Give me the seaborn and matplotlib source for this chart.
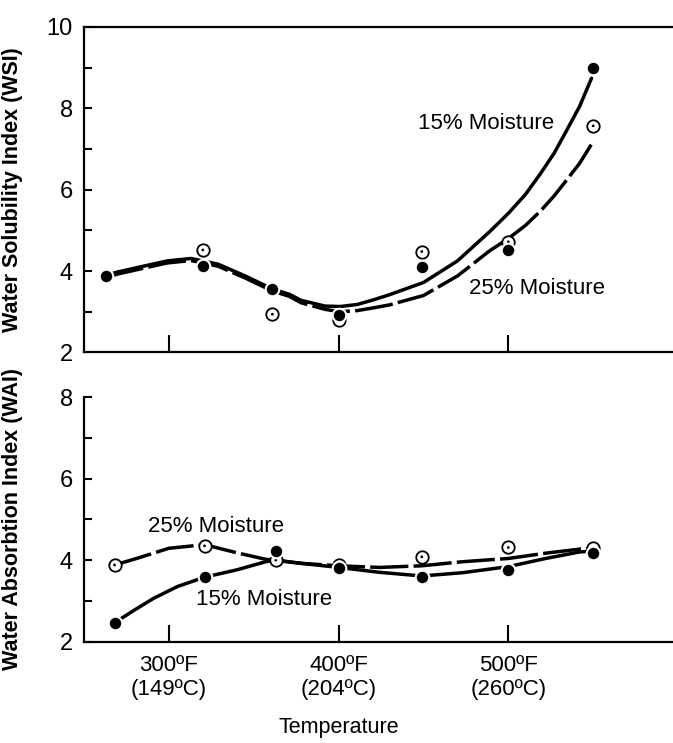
import numpy as np
import pandas as pd
import matplotlib
matplotlib.use("Agg")
import matplotlib.pyplot as plt
import seaborn as sns
from matplotlib.ticker import MultipleLocator

# measured points, top panel (water solubility index)
temps_top = [263, 320, 361, 400, 449, 500, 550]
wsi_15 = [3.88, 4.13, 3.55, 2.93, 4.11, 4.52, 9.00]
wsi_25 = [3.88, 4.52, 2.94, 2.80, 4.48, 4.72, 7.57]

# hand drawn curves of the top panel
curve_x_top = [263, 270, 285, 299, 313, 329, 345, 361, 371, 378, 392, 401, 411, 421, 430, 450, 470, 489, 500, 510, 519, 527, 534, 542, 549]
curve_wsi_15 = [3.90, 3.98, 4.12, 4.25, 4.31, 4.17, 3.88, 3.56, 3.43, 3.28, 3.14, 3.13, 3.18, 3.30, 3.42, 3.72, 4.25, 4.97, 5.42, 5.88, 6.40, 6.90, 7.43, 8.05, 8.74]
curve_wsi_25 = [3.85, 3.93, 4.07, 4.20, 4.26, 4.12, 3.83, 3.51, 3.38, 3.22, 3.06, 3.00, 3.03, 3.10, 3.17, 3.40, 3.88, 4.50, 4.80, 5.12, 5.48, 5.85, 6.22, 6.65, 7.12]

# measured points, bottom panel (water absorption index)
temps_bot = [268, 321, 363, 400, 449, 500, 550]
wai_15 = [2.46, 3.58, 4.23, 3.80, 3.58, 3.76, 4.17]
wai_25 = [3.88, 4.35, 4.00, 3.88, 4.08, 4.31, 4.29]

curve_x_bot_15 = [268, 280, 291, 305, 321, 340, 357, 363, 378, 400, 424, 449, 473, 500, 522, 542, 550]
curve_wai_15 = [2.46, 2.78, 3.06, 3.35, 3.58, 3.76, 3.96, 4.00, 3.92, 3.82, 3.70, 3.61, 3.69, 3.84, 4.04, 4.20, 4.22]
curve_x_bot_25 = [268, 281, 300, 321, 340, 357, 378, 400, 424, 449, 473, 500, 522, 542, 550]
curve_wai_25 = [3.88, 4.04, 4.29, 4.38, 4.18, 4.02, 3.92, 3.86, 3.82, 3.86, 3.96, 4.04, 4.17, 4.27, 4.29]

xtick_vals = [300, 400, 500]
xtick_labels = ["300ºF\n(149ºC)", "400ºF\n(204ºC)", "500ºF\n(260ºC)"]

sns.set_style("ticks")
plt.rcParams["font.family"] = ["Liberation Sans", "DejaVu Sans"]
plt.rcParams["text.color"] = "black"
plt.rcParams["axes.labelcolor"] = "black"

fig = plt.figure(figsize=(6.73, 7.43), dpi=100)
ax1 = fig.add_axes([0.1248, 0.5256, 0.8752, 0.4381])
ax2 = fig.add_axes([0.1248, 0.1366, 0.8752, 0.3287])

dash = (0, (11, 1.5))
lw = 2.5


def draw_panel(ax, temps, v15, v25, cx15, cy15, cx25, cy25):
    sns.lineplot(x=cx15, y=cy15, ax=ax, color="black", lw=lw, sort=False, zorder=2)
    sns.lineplot(x=cx25, y=cy25, ax=ax, color="black", lw=lw, sort=False,
                 linestyle=dash, zorder=2)
    # open circles with a centre dot = 25% moisture
    sns.scatterplot(x=temps, y=v25, ax=ax, marker="o", s=80, facecolor="white",
                    edgecolor="black", linewidth=1.3, zorder=3)
    sns.scatterplot(x=temps, y=v25, ax=ax, marker="o", s=4, color="black",
                    edgecolor="none", zorder=4)
    # filled circles = 15% moisture
    sns.scatterplot(x=temps, y=v15, ax=ax, marker="o", s=95, color="black",
                    edgecolor="white", linewidth=1.5, zorder=5)
    ax.set_xlim(250, 597)
    ax.set_xticks(xtick_vals)
    ax.yaxis.set_minor_locator(MultipleLocator(1))
    ax.tick_params(axis="y", which="both", direction="in", length=6, width=1.5,
                   labelsize=17, pad=8, colors="black")
    ax.tick_params(axis="x", which="major", direction="in", length=12, width=1.5,
                   colors="black")
    for s in ax.spines.values():
        s.set_linewidth(1.6)
        s.set_color("black")
    ax.spines["right"].set_visible(False)


draw_panel(ax1, temps_top, wsi_15, wsi_25, curve_x_top, curve_wsi_15, curve_x_top, curve_wsi_25)
draw_panel(ax2, temps_bot, wai_15, wai_25, curve_x_bot_15, curve_wai_15, curve_x_bot_25, curve_wai_25)

ax1.set_ylim(2, 10)
ax1.set_yticks([2, 4, 6, 8, 10])
ax1.set_xticklabels([])
ax1.set_ylabel("Water Solubility Index (WSI)", fontsize=15.5, fontweight="bold")
ax1.yaxis.set_label_coords(-0.104, 0.5)

ax2.set_ylim(2, 8)
ax2.set_yticks([2, 4, 6, 8])
ax2.spines["top"].set_visible(False)
ax2.set_xticklabels(xtick_labels, fontsize=16, linespacing=1.15)
ax2.tick_params(axis="x", pad=10)
ax2.set_ylabel("Water Absorbtion Index (WAI)", fontsize=15.5, fontweight="bold")
ax2.yaxis.set_label_coords(-0.104, 0.5)
ax2.set_xlabel("Temperature", fontsize=15.5)
ax2.xaxis.set_label_coords(0.433, -0.354)
ax2.xaxis.label.set_va("center")

ax1.text(487, 7.63, "15% Moisture", fontsize=16, ha="center", va="center")
ax1.text(517, 3.58, "25% Moisture", fontsize=16, ha="center", va="center")
ax2.text(328, 4.82, "25% Moisture", fontsize=16, ha="center", va="center")
ax2.text(356, 3.02, "15% Moisture", fontsize=16, ha="center", va="center")

fig.savefig("out.png", dpi=100)
